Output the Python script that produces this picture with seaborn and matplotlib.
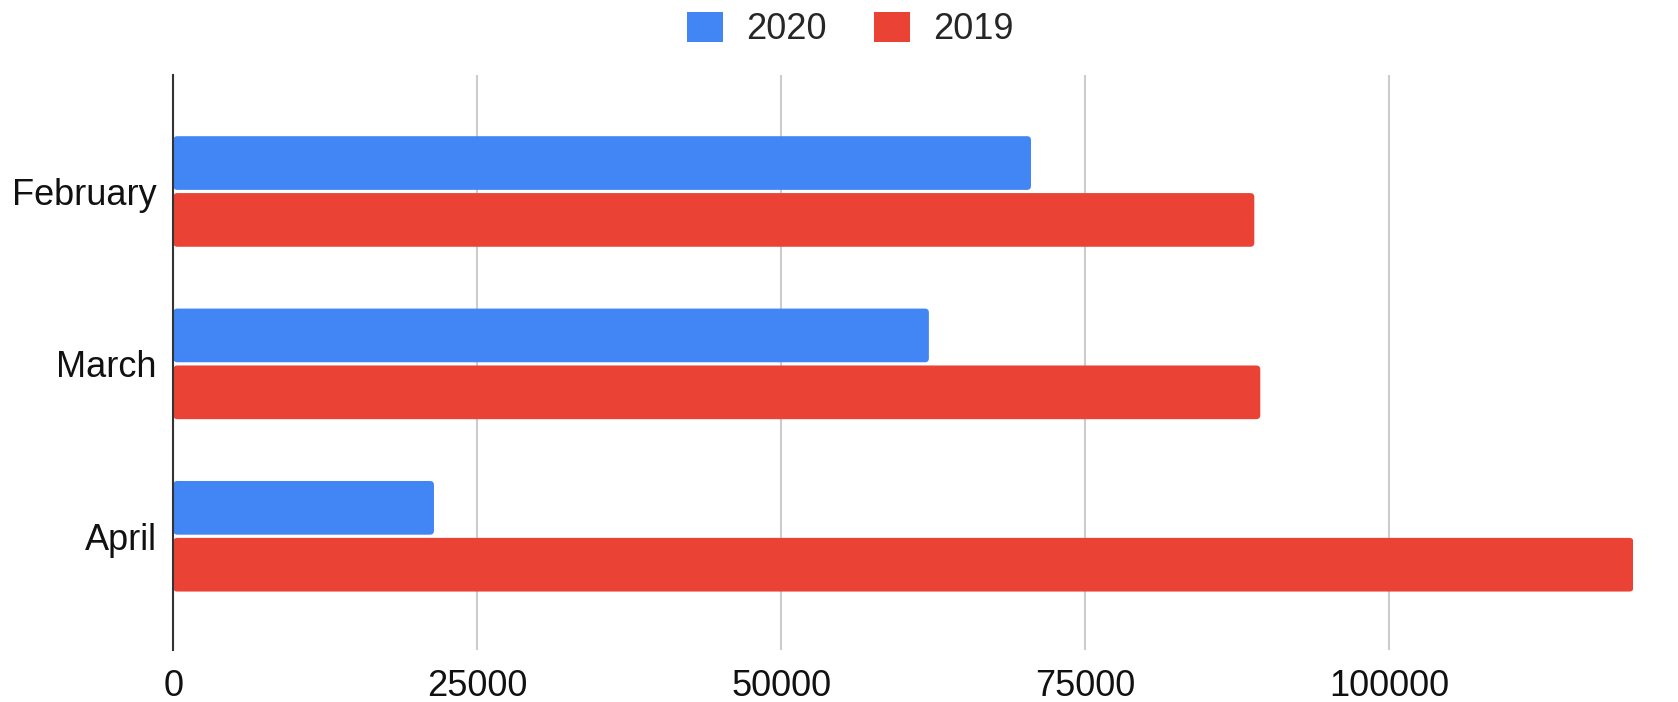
import numpy as np
import pandas as pd
import matplotlib
matplotlib.use("Agg")
import matplotlib.pyplot as plt
import seaborn as sns
from matplotlib.patches import FancyBboxPatch, Patch

# data
months = ["February", "March", "April"]
sales_2020 = [70550, 62150, 21440]
sales_2019 = [88920, 89410, 120100]
years = ["2020", "2019"]
colors = {"2020": "#4285F4", "2019": "#EA4335"}

df = pd.DataFrame({
    "Month": months * 2,
    "Value": sales_2020 + sales_2019,
    "Year": ["2020"] * len(months) + ["2019"] * len(months),
})

sns.set_theme(style="white")
plt.rcParams["font.family"] = ["Liberation Sans", "DejaVu Sans"]

fig = plt.figure(figsize=(16.78, 7.02), dpi=100)
ax = fig.add_axes([0.1033, 0.074, 0.8701, 0.819])

sns.barplot(data=df, y="Month", x="Value", hue="Year", hue_order=years,
            order=months, palette=colors, width=0.66, orient="h",
            saturation=1, ax=ax, legend=False)

ax.set_xlim(0, max(sales_2019 + sales_2020))
ax.set_ylim(2.66, -0.675)

# pixel -> data conversions for rounded corners and small bar gaps
fig.canvas.draw()
bbox = ax.get_window_extent()
xpp = (ax.get_xlim()[1] - ax.get_xlim()[0]) / bbox.width
ypp = abs(ax.get_ylim()[1] - ax.get_ylim()[0]) / bbox.height
gap = 1.6 * ypp
rad = 4.0

for p in list(ax.patches):
    x, y = p.get_x(), p.get_y()
    w, h = p.get_width(), p.get_height()
    fc = p.get_facecolor()
    p.remove()
    fb = FancyBboxPatch((x, y + gap), w, h - 2 * gap,
                        boxstyle=f"round,pad=0,rounding_size={rad * xpp}",
                        mutation_aspect=ypp / xpp,
                        facecolor=fc, edgecolor="none", zorder=2)
    ax.add_patch(fb)

ax.set_xticks([0, 25000, 50000, 75000, 100000])
ax.grid(axis="x", color="#cccccc", linewidth=1.5, zorder=0)
ax.set_axisbelow(True)
for s in ["top", "right", "bottom"]:
    ax.spines[s].set_visible(False)
ax.spines["left"].set_color("#333333")
ax.spines["left"].set_linewidth(1.5)
ax.spines["left"].set_zorder(3)

ax.tick_params(axis="both", length=0, labelsize=26, colors="#111111")
ax.tick_params(axis="x", pad=14)
ax.tick_params(axis="y", pad=12)
ax.set_xlabel("")
ax.set_ylabel("")

handles = [Patch(facecolor=colors[y], edgecolor="none") for y in years]
fig.legend(handles, years, loc="center", bbox_to_anchor=(0.5067, 0.958),
           ncol=2, frameon=False, fontsize=26, handlelength=1.0,
           handleheight=0.9, handletextpad=0.65, columnspacing=1.3)

fig.savefig("out.png", dpi=100)
